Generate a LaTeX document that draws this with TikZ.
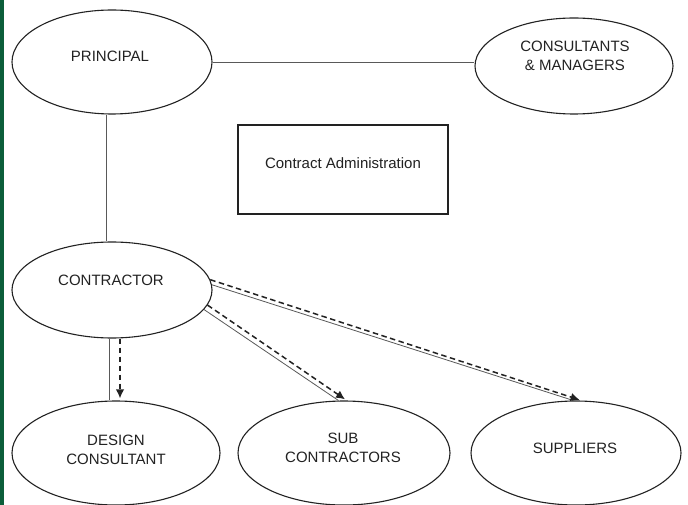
\documentclass[tikz,border=0pt]{standalone}
\usepackage{fontspec}
\setmainfont{Liberation Sans}
\usetikzlibrary{shapes.geometric,arrows.meta}
\definecolor{stripgreen}{RGB}{12,94,58}
\definecolor{inkgray}{RGB}{34,34,34}
\begin{document}
\begin{tikzpicture}[x=1pt,y=-1pt,
  party/.style={draw=inkgray, line width=1.1pt, ellipse, inner sep=0pt, fill=white},
  lbl/.style={font=\fontsize{15}{18.5}\selectfont, text=inkgray, align=center, inner sep=0pt},
  link/.style={draw=black!65, line width=0.8pt},
  flow/.style={draw=inkgray, line width=1.5pt, dash pattern=on 5.5pt off 3.5pt,
    -{Latex[length=9pt,width=8.5pt]}, shorten >=2pt},
]
\useasboundingbox (0,0) rectangle (688,505);
\fill[white] (0,0) rectangle (688,505);
\fill[stripgreen] (0,0) rectangle (4,505);

% parties
\node[party, minimum width=200pt, minimum height=104pt] (principal) at (112,62) {};
\node[party, minimum width=198pt, minimum height=96pt] (consult) at (574,66) {};
\node[draw=inkgray, line width=1.1pt, rectangle, minimum width=210pt, minimum height=89pt, inner sep=0pt] (admin) at (343,169.5) {};
\node[party, minimum width=200pt, minimum height=96pt] (contractor) at (112,290) {};
\node[party, minimum width=208pt, minimum height=104pt] (design) at (116,453) {};
\node[party, minimum width=212pt, minimum height=104pt] (sub) at (344,453) {};
\node[party, minimum width=210pt, minimum height=104pt] (suppliers) at (576,453) {};

% labels
\node[lbl] (principal-t) at (110,56) {PRINCIPAL};
\node[lbl] (consult-t) at (575,56) {CONSULTANTS\\\& MANAGERS};
\node[lbl] (admin-t) at (343,163) {Contract Administration};
\node[lbl] (contractor-t) at (111,280) {CONTRACTOR};
\node[lbl] (design-t) at (116,450) {DESIGN\\CONSULTANT};
\node[lbl] (sub-t) at (343,448) {SUB\\CONTRACTORS};
\node[lbl] (suppliers-t) at (575,448) {SUPPLIERS};

% contractual links
\draw[link] (principal.east) -- (principal.east -| consult.west);
\draw[link] ([xshift=-6pt]principal.south) -- ([xshift=-6pt]contractor.north);
\draw[link] ([xshift=-3pt]contractor.south) -- ([xshift=-7pt]design.north);
\draw[link] (contractor.-12) -- (sub.96);
\draw[link] (contractor.3) -- (suppliers.93);

% flows
\draw[flow] ([xshift=8pt]contractor.south) -- ([xshift=4pt]design.north);
\draw[flow] (contractor.-9) -- (sub.87);
\draw[flow] (contractor.6) -- (suppliers.84);
\end{tikzpicture}
\end{document}
